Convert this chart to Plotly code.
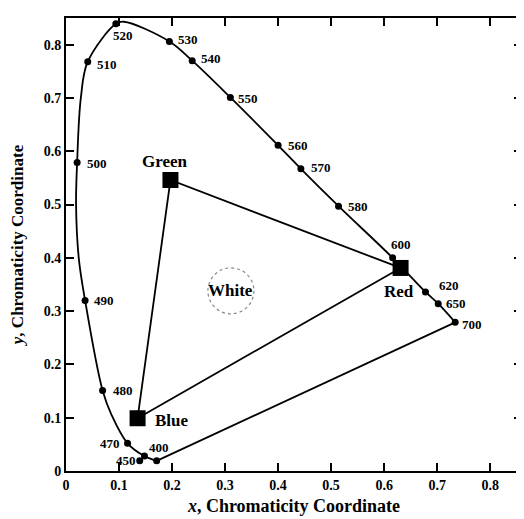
import plotly.graph_objects as go

# ---- data ----
wavelengths = ["400", "470", "480", "490", "500", "510", "520", "530", "540",
               "550", "560", "570", "580", "600", "620", "650", "700"]
wl_x = [0.171, 0.116, 0.069, 0.036, 0.021, 0.041, 0.094, 0.195, 0.238,
        0.310, 0.400, 0.443, 0.514, 0.616, 0.678, 0.702, 0.734]
wl_y = [0.019, 0.052, 0.151, 0.320, 0.579, 0.768, 0.839, 0.806, 0.770,
        0.701, 0.611, 0.567, 0.497, 0.400, 0.336, 0.314, 0.279]

# extra dots near the blue end
extra_labels = ["450", ""]
extra_x = [0.139, 0.148]
extra_y = [0.019, 0.028]

# spectral locus path (from 400 round to 700)
locus_x = [0.171, 0.148, 0.116, 0.086, 0.069, 0.036, 0.024, 0.019, 0.021,
           0.028, 0.041, 0.094, 0.109, 0.195, 0.238, 0.310, 0.400, 0.443,
           0.514, 0.616, 0.678, 0.702, 0.734]
locus_y = [0.019, 0.028, 0.052, 0.105, 0.151, 0.320, 0.400, 0.500, 0.579,
           0.700, 0.768, 0.839, 0.843, 0.806, 0.770, 0.701, 0.611, 0.567,
           0.497, 0.400, 0.336, 0.314, 0.279]

primaries = ["Red", "Green", "Blue"]
prim_x = [0.631, 0.197, 0.135]
prim_y = [0.381, 0.546, 0.099]

white_label = "White"
white_x = 0.311
white_y = 0.338

tick_vals = [0, 0.1, 0.2, 0.3, 0.4, 0.5, 0.6, 0.7, 0.8]
tick_text = ["0", "0.1", "0.2", "0.3", "0.4", "0.5", "0.6", "0.7", "0.8"]

# ---- styling ----
FONT = "Liberation Serif"
label_shift = {
    "400": (2, 13), "450": (-14, 0), "470": (-18, 0), "480": (20, 0),
    "490": (19, 0), "500": (20, -1), "510": (19, -3), "520": (7, -12),
    "530": (19, 2), "540": (19, 2), "550": (18, -1), "560": (20, 0),
    "570": (20, 1), "580": (19, 0), "600": (8, 13), "620": (23, 6),
    "650": (18, 0), "700": (17, -2),
}
prim_shift = {"Red": (-2, -24), "Green": (-5, 19), "Blue": (34, -2)}

fig = go.Figure()

# spectral locus
fig.add_trace(go.Scatter(x=locus_x, y=locus_y, mode="lines",
                         line=dict(color="black", width=1.8, shape="spline", smoothing=1.0),
                         hoverinfo="skip", showlegend=False))
# line of purples
fig.add_trace(go.Scatter(x=[wl_x[0], wl_x[-1]], y=[wl_y[0], wl_y[-1]], mode="lines",
                         line=dict(color="black", width=1.8),
                         hoverinfo="skip", showlegend=False))
# gamut triangle
fig.add_trace(go.Scatter(x=prim_x + [prim_x[0]], y=prim_y + [prim_y[0]], mode="lines",
                         line=dict(color="black", width=1.8),
                         hoverinfo="skip", showlegend=False))
# wavelength dots
fig.add_trace(go.Scatter(x=wl_x + extra_x, y=wl_y + extra_y, mode="markers",
                         marker=dict(color="black", size=7, symbol="circle"),
                         showlegend=False))
# primaries
fig.add_trace(go.Scatter(x=prim_x, y=prim_y, mode="markers",
                         marker=dict(color="black", size=16, symbol="square"),
                         showlegend=False))

annotations = []
for lab, x, y in zip(wavelengths + extra_labels, wl_x + extra_x, wl_y + extra_y):
    if not lab:
        continue
    dx, dy = label_shift[lab]
    annotations.append(dict(x=x, y=y, xref="x", yref="y", text=lab, showarrow=False,
                            xshift=dx, yshift=dy, xanchor="center", yanchor="middle",
                            font=dict(family=FONT, size=13, color="black", weight="bold")))
for lab, x, y in zip(primaries, prim_x, prim_y):
    dx, dy = prim_shift[lab]
    annotations.append(dict(x=x, y=y, xref="x", yref="y", text=lab, showarrow=False,
                            xshift=dx, yshift=dy, xanchor="center", yanchor="middle",
                            font=dict(family=FONT, size=17, color="black", weight="bold")))
annotations.append(dict(x=white_x, y=white_y, xref="x", yref="y", text=white_label,
                        showarrow=False, xanchor="center", yanchor="middle",
                        font=dict(family=FONT, size=17, color="black", weight="bold")))

fig.add_shape(type="circle", xref="x", yref="y", xsizemode="pixel", ysizemode="pixel",
              xanchor=white_x, yanchor=white_y, x0=-23, x1=23, y0=-23, y1=23,
              line=dict(color="#888888", width=1.2, dash="dot"))

axis_common = dict(
    showline=True, linecolor="black", linewidth=1.8, mirror="ticks",
    ticks="inside", ticklen=8, tickwidth=1.8, tickcolor="black",
    showgrid=False, zeroline=False,
    tickvals=tick_vals, ticktext=tick_text,
    tickfont=dict(family=FONT, size=14, color="black", weight="bold"),
)

fig.update_layout(
    width=524, height=519,
    margin=dict(l=57, r=9, t=8, b=56),
    paper_bgcolor="white", plot_bgcolor="white",
    xaxis=dict(range=[0, 0.86], **axis_common,
               title=dict(text="<i>x</i>, Chromaticity Coordinate", standoff=8,
                          font=dict(family=FONT, size=18, color="black", weight="bold"))),
    yaxis=dict(range=[0, 0.85], **axis_common,
               title=dict(text="<i>y</i>, Chromaticity Coordinate", standoff=16,
                          font=dict(family=FONT, size=17, color="black", weight="bold"))),
    annotations=annotations,
    showlegend=False,
)

fig.write_html("out.html")
